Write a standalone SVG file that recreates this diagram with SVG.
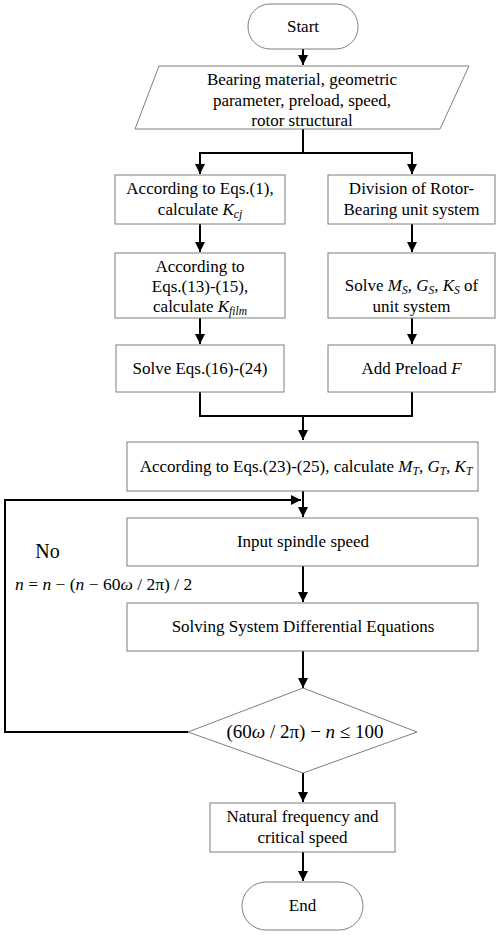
<svg xmlns="http://www.w3.org/2000/svg" width="500" height="935" viewBox="0 0 500 935">
<defs>
<marker id="arr" viewBox="0 0 10 10" refX="10" refY="5" markerWidth="10" markerHeight="10" markerUnits="userSpaceOnUse" orient="auto">
<path d="M0,0 L10,5 L0,10 z" fill="#000"/>
</marker>
<style>
.box{fill:#fff;stroke:#7f7f7f;stroke-width:1}
.t{font-family:"Liberation Serif","Times New Roman",serif;font-size:17px;fill:#000;text-anchor:middle}
.i{font-style:italic}
.s{font-size:11.5px;font-style:italic}
.c{fill:none;stroke:#000;stroke-width:2}
.ca{fill:none;stroke:#000;stroke-width:2;marker-end:url(#arr)}
</style>
</defs>
<rect width="500" height="935" fill="#fff"/>
<g id="connectors">
<path class="ca" d="M303,49 V65"/>
<path class="c" d="M303,129 V153 M200,153 H412"/>
<path class="ca" d="M200,152 V174"/>
<path class="ca" d="M412,152 V174"/>
<path class="ca" d="M200,224 V252"/>
<path class="ca" d="M412,224 V252"/>
<path class="ca" d="M200,318 V344"/>
<path class="ca" d="M412,318 V344"/>
<path class="c" d="M200,392 V416 H412 V392"/>
<path class="ca" d="M303,415 V440"/>
<path class="ca" d="M303,491 V517"/>
<path class="ca" d="M303,566 V602"/>
<path class="ca" d="M303,651 V688"/>
<path class="ca" d="M188,732 H5 V500 H301"/>
<path class="ca" d="M303,773 V802"/>
<path class="ca" d="M303,852 V881"/>
</g>
<g id="start">
<rect class="box" x="248" y="4" width="110" height="45" rx="22" ry="22"/>
<text class="t" x="303" y="32">Start</text>
</g>
<g id="input">
<polygon class="box" points="159,66 469,66 440,129 135,129"/>
<text class="t" x="302" y="85">Bearing material, geometric</text>
<text class="t" x="302" y="106">parameter, preload, speed,</text>
<text class="t" x="302" y="126">rotor structural</text>
</g>
<g id="kcj">
<rect class="box" x="115" y="175" width="170" height="49"/>
<text class="t" x="200" y="194">According to Eqs.(1),</text>
<text class="t" x="200" y="215">calculate <tspan class="i">K</tspan><tspan class="s" dy="3">cj</tspan></text>
</g>
<g id="division">
<rect class="box" x="328" y="175" width="167" height="49"/>
<text class="t" x="411.5" y="194">Division of Rotor-</text>
<text class="t" x="411.5" y="215">Bearing unit system</text>
</g>
<g id="kfilm">
<rect class="box" x="115" y="253" width="170" height="65"/>
<text class="t" x="200" y="272">According to</text>
<text class="t" x="200" y="292">Eqs.(13)-(15),</text>
<text class="t" x="200" y="312">calculate <tspan class="i">K</tspan><tspan class="s" dy="3">film</tspan></text>
</g>
<g id="msgsks">
<rect class="box" x="328" y="253" width="167" height="65"/>
<text class="t" x="411.5" y="291">Solve <tspan class="i">M</tspan><tspan class="s" dy="3">S</tspan><tspan dy="-3">, </tspan><tspan class="i">G</tspan><tspan class="s" dy="3">S</tspan><tspan dy="-3">, </tspan><tspan class="i">K</tspan><tspan class="s" dy="3">S</tspan><tspan dy="-3"> of</tspan></text>
<text class="t" x="411.5" y="312">unit system</text>
</g>
<g id="solve1624">
<rect class="box" x="116" y="345" width="168" height="47"/>
<text class="t" x="200" y="374">Solve Eqs.(16)-(24)</text>
</g>
<g id="preload">
<rect class="box" x="328" y="345" width="167" height="47"/>
<text class="t" x="411.5" y="374">Add Preload <tspan class="i">F</tspan></text>
</g>
<g id="mgk">
<rect class="box" x="127" y="442" width="351" height="49"/>
<text class="t" x="306" y="472">According to Eqs.(23)-(25), calculate <tspan class="i">M</tspan><tspan class="s" dy="3">T</tspan><tspan dy="-3">, </tspan><tspan class="i">G</tspan><tspan class="s" dy="3">T</tspan><tspan dy="-3">, </tspan><tspan class="i">K</tspan><tspan class="s" dy="3">T</tspan></text>
</g>
<g id="spindle">
<rect class="box" x="127" y="518" width="351" height="48"/>
<text class="t" x="303" y="547">Input spindle speed</text>
</g>
<g id="solving">
<rect class="box" x="127" y="603" width="351" height="48"/>
<text class="t" x="303" y="632">Solving System Differential Equations</text>
</g>
<g id="decision">
<polygon class="box" points="303,688 417,732 303,773 188,732"/>
<text class="t" x="305" y="738" style="font-size:19px">(60<tspan class="i">ω</tspan> / 2π) − <tspan class="i">n</tspan> ≤ 100</text>
</g>
<g id="no-label">
<text class="t" x="47.5" y="558" style="font-size:20px">No</text>
<text class="t" x="15" y="590" style="font-size:17.5px;text-anchor:start"><tspan class="i">n</tspan> = <tspan class="i">n</tspan> − (<tspan class="i">n</tspan> − 60<tspan class="i">ω</tspan> / 2π) / 2</text>
</g>
<g id="natural">
<rect class="box" x="210" y="803" width="185" height="49"/>
<text class="t" x="302.5" y="822">Natural frequency  and</text>
<text class="t" x="302.5" y="843">critical speed</text>
</g>
<g id="end">
<rect class="box" x="242" y="882" width="121" height="48" rx="24" ry="24"/>
<text class="t" x="302.5" y="911">End</text>
</g>
</svg>
